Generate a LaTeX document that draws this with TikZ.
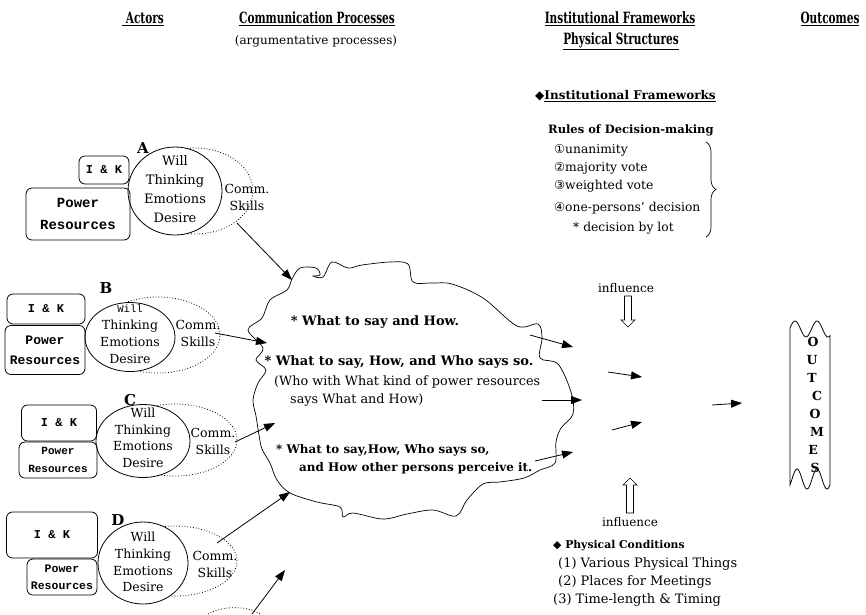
\documentclass[tikz,border=0pt]{standalone}
\usepackage{fontspec}
\setmainfont{DejaVu Serif}
\setmonofont{Liberation Mono}
\newfontfamily\symfont{DejaVu Sans}
\newfontfamily\headfont[FakeStretch=0.68]{DejaVu Serif}
\usetikzlibrary{shapes,arrows.meta,decorations.pathreplacing,positioning}

\begin{document}
\begin{tikzpicture}[x=1pt,y=-1pt,
  box/.style={draw, rounded corners=6pt, line width=0.8pt, align=center, inner sep=0pt,
    font=\ttfamily\bfseries\fontsize{12}{15}\selectfont},
  mind/.style={ellipse, draw, fill=white, line width=0.8pt, inner sep=0pt},
  commzone/.style={ellipse, draw, dotted, line width=0.8pt, inner sep=0pt},
  thought/.style={align=center, inner sep=0pt, font=\fontsize{12.5}{17}\selectfont},
  who/.style={inner sep=0pt, font=\bfseries\fontsize{15}{15}\selectfont},
  head/.style={inner sep=0pt, font=\headfont\bfseries\fontsize{15.5}{17}\selectfont},
  plain/.style={inner sep=0pt, anchor=west, font=\fontsize{12.3}{14}\selectfont},
  say/.style={inner sep=0pt, font=\bfseries\fontsize{13}{15}\selectfont},
  arr/.style={-{Triangle[length=11pt,width=8pt]}, line width=0.8pt},
  hollow/.style={draw, line width=0.6pt, fill=white},
  outl/.style={inner sep=0pt, font=\bfseries\fontsize{12.5}{12}\selectfont}]

\fill[white] (0,0) rectangle (866,614);
\useasboundingbox (0,0) rectangle (866,614);

% column heads
\node[head] (hAct) at (143,19) {\underline{\ Actors}};
\node[head] (hCom) at (317,19) {\underline{Communication Processes}};
\node[inner sep=0pt, font=\fontsize{12}{14}\selectfont] (hArg) at (316,41) {(argumentative processes)};
\node[head] (hIns) at (620,19) {\underline{Institutional Frameworks}};
\node[head] (hPhy) at (621,41) {\underline{Physical Structures}};
\node[head] (hOut) at (830,19) {\underline{Outcomes}};

% actor A
\node[commzone, minimum width=116pt, minimum height=86pt] (ellA) at (195,191) {};
\node[mind, minimum width=94pt, minimum height=88pt] (mindA) at (175,191) {};
\node[thought, font=\fontsize{13}{19}\selectfont] (thA) at (175,189) {Will\\Thinking\\Emotions\\Desire};
\node[box, minimum width=50pt, minimum height=28pt] (ikA) at (104,170) {I \& K};
\node[box, minimum width=104pt, minimum height=52pt, font=\ttfamily\bfseries\fontsize{14}{22}\selectfont] (powA) at (78,214) {Power\\ Resources};
\node[who] (labA) at (143,148) {A};
\node[thought] (skA) at (247,197) {Comm.\\Skills};

% actor B
\node[commzone, minimum width=124pt, minimum height=76pt] (ellB) at (158,335) {};
\node[mind, minimum width=90pt, minimum height=69pt] (mindB) at (130,337) {};
\node[thought] (thB) at (130,334) {{\ttfamily\fontsize{10.5}{10}\selectfont Will}\\Thinking\\Emotions\\Desire};
\node[box, minimum width=78pt, minimum height=30pt] (ikB) at (46,309) {I \& K};
\node[box, minimum width=80pt, minimum height=49pt, font=\ttfamily\bfseries\fontsize{13}{20}\selectfont] (powB) at (45,350) {Power\\Resources};
\node[who] (labB) at (106,288) {B};
\node[thought] (skB) at (198,333) {Comm.\\Skills};

% actor C
\node[commzone, minimum width=124pt, minimum height=72pt] (ellC) at (175,440) {};
\node[mind, minimum width=94pt, minimum height=73pt] (mindC) at (143,441) {};
\node[thought, font=\fontsize{12.5}{16.5}\selectfont] (thC) at (143,438) {Will\\Thinking\\Emotions\\Desire};
\node[box, minimum width=75pt, minimum height=36pt] (ikC) at (59,423) {I \& K};
\node[box, minimum width=78pt, minimum height=36pt, font=\ttfamily\bfseries\fontsize{11}{18}\selectfont] (powC) at (58,460) {Power\\Resources};
\node[who] (labC) at (130,400) {C};
\node[thought] (skC) at (213,441) {Comm.\\Skills};

% actor D
\node[commzone, minimum width=124pt, minimum height=70pt] (ellD) at (175,561) {};
\node[mind, minimum width=90pt, minimum height=82pt] (mindD) at (143,563) {};
\node[thought, font=\fontsize{12.5}{16.7}\selectfont] (thD) at (143,562) {Will\\Thinking\\Emotions\\Desire};
\node[box, minimum width=91pt, minimum height=46pt] (ikD) at (52,535) {I \& K};
\node[box, minimum width=70pt, minimum height=36pt, font=\ttfamily\bfseries\fontsize{11.5}{17}\selectfont] (powD) at (62,577) {Power\\Resources};
\node[who] (labD) at (118,520) {D};
\node[thought] (skD) at (215,564) {Comm.\\Skills};

% a further actor below the page edge
\draw[dotted, line width=0.8pt] (208,614) .. controls (222,606) and (246,605) .. (260,614);

% the argument cloud
\draw[line width=0.7pt] plot[smooth cycle, tension=0.55] coordinates {
  (292,279) (300,268) (316,268) (320,275) (313,276) (323,277) (332,262)
  (348,268) (362,265) (390,262) (408,264) (413,282) (432,283) (452,284)
  (483,298) (517,326) (538,324) (542,338) (540,358) (558,364) (571,392)
  (573,414) (561,428) (556,442) (555,463) (540,470) (524,478) (500,482)
  (483,484) (467,500) (456,516) (433,510) (407,514) (383,519) (353,513)
  (343,517) (340,507) (317,502) (290,493) (277,480) (270,463) (262,449)
  (259,435) (256,416) (253,400) (258,383) (266,370) (256,360) (263,348)
  (248,330) (262,318) (270,300) (287,290)};

\node[say] (s1) at (375,322) {* What to say and How.};
\node[say] (s2) at (399,362) {* What to say, How, and Who says so.};
\node[plain, font=\fontsize{12.8}{14}\selectfont] (s2a) at (274,382) {(Who with What kind of power resources};
\node[plain, font=\fontsize{12.8}{14}\selectfont] (s2b) at (290,400) {says What and How)};
\node[say, anchor=west, font=\bfseries\fontsize{11.9}{14}\selectfont] (s3) at (276,450) {* What to say,How, Who says so,};
\node[say, anchor=west, font=\bfseries\fontsize{11.9}{14}\selectfont] (s3a) at (299,468) {and How other persons perceive it.};

% actors into the cloud
\coordinate (fA) at (237,223);  \coordinate (tA) at (292,280);
\coordinate (fB) at (215,333);  \coordinate (tB) at (267,343);
\coordinate (fC) at (235,442);  \coordinate (tC) at (275,423);
\coordinate (fD) at (217,543);  \coordinate (tD) at (290,492);
\coordinate (fE) at (252,614);  \coordinate (tE) at (285,570);
\draw[arr] (fA) -- (tA);
\draw[arr] (fB) -- (tB);
\draw[arr] (fC) -- (tC);
\draw[arr] (fD) -- (tD);
\draw[arr] (fE) -- (tE);

% institutional frameworks
\node[plain, font=\bfseries\fontsize{12}{13}\selectfont] (insT) at (535,96) {{\symfont ◆}\underline{Institutional Frameworks}};
\node[plain, font=\bfseries\fontsize{11.5}{13}\selectfont] (rules) at (548,130) {Rules of Decision-making};
\node[plain] (r1) at (554,150) {{\symfont ①}unanimity};
\node[plain] (r2) at (554,168) {{\symfont ②}majority vote};
\node[plain] (r3) at (554,186) {{\symfont ③}weighted vote};
\node[plain] (r4) at (554,208) {{\symfont ④}one-persons' decision};
\node[plain] (r5) at (573,228) {* decision by lot};
\draw[decorate, decoration={brace, amplitude=10pt}, line width=0.7pt] (706,142) -- (706,237);

% influences
\node[inner sep=0pt, font=\fontsize{12}{14}\selectfont] (infT) at (626,288) {influence};
\draw[hollow] (624.5,296) -- (631.5,296) -- (631.5,320) -- (635,320) -- (628,327)
  -- (621,320) -- (624.5,320) -- cycle;
\draw[hollow] (626.5,513) -- (633.5,513) -- (633.5,485) -- (637,485) -- (630,478)
  -- (623,485) -- (626.5,485) -- cycle;
\node[inner sep=0pt, font=\fontsize{12}{14}\selectfont] (infB) at (630,522) {influence};

% physical conditions
\node[plain, font=\bfseries\fontsize{10.8}{12}\selectfont] (phyT) at (553,546) {{\symfont ◆} Physical Conditions};
\node[plain, font=\fontsize{13}{14}\selectfont] (p1) at (558,564) {(1) Various Physical Things};
\node[plain, font=\fontsize{13}{14}\selectfont] (p2) at (558,582) {(2) Places for Meetings};
\node[plain, font=\fontsize{13}{14}\selectfont] (p3) at (553,600) {(3) Time-length \& Timing};

% out of the cloud and on to the outcomes
\coordinate (c1) at (530,335);  \coordinate (d1) at (573,347);
\coordinate (c2) at (542,400);  \coordinate (d2) at (582,400);
\coordinate (c3) at (535,461);  \coordinate (d3) at (573,452);
\coordinate (m1) at (608,372);  \coordinate (n1) at (642,377);
\coordinate (m2) at (612,430);  \coordinate (n2) at (642,422);
\coordinate (m3) at (712,405);  \coordinate (n3) at (742,403);
\draw[arr] (c1) -- (d1);
\draw[arr] (c2) -- (d2);
\draw[arr] (c3) -- (d3);
\draw[arr] (m1) -- (n1);
\draw[arr] (m2) -- (n2);
\draw[arr] (m3) -- (n3);

% the outcomes banner
\draw[line width=0.8pt] plot[domain=0:40, samples=50, smooth] ({790+\x},{329-8*cos(360*(\x-5)/22)})
  -- plot[domain=40:0, samples=50, smooth] ({790+\x},{479-10*cos(360*(\x-7)/20)}) -- cycle;
\foreach \ch/\dx [count=\i from 0] in {O/3,U/2,T/2,C/7,O/5,M/7,E/3,S/5}
  \node[outl] (oc\i) at (810+\dx, 342+18*\i) {\ch};

\end{tikzpicture}
\end{document}
